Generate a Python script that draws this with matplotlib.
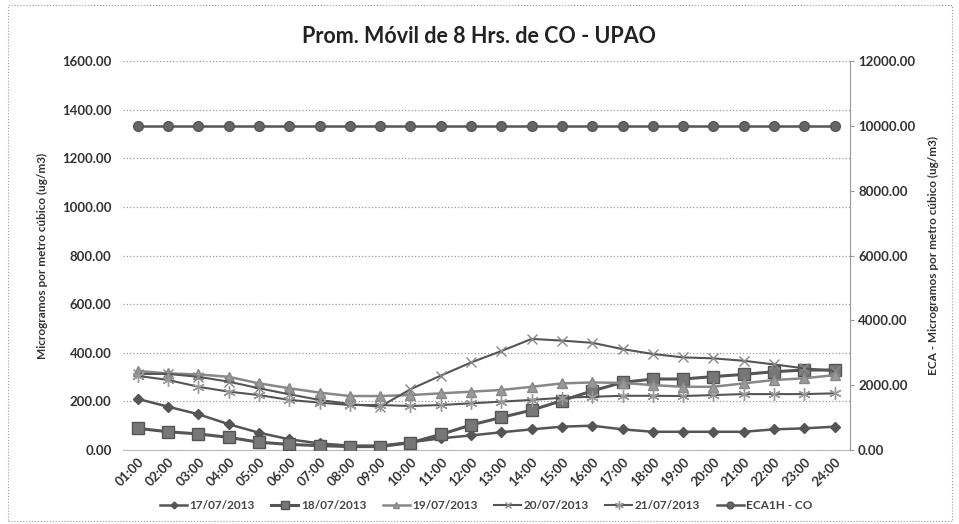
import matplotlib
matplotlib.use("Agg")
import matplotlib.pyplot as plt
from matplotlib.patches import Rectangle

# hourly 8-h moving averages of CO (ug/m3), UPAO station
hours = ['01:00', '02:00', '03:00', '04:00', '05:00', '06:00', '07:00', '08:00',
         '09:00', '10:00', '11:00', '12:00', '13:00', '14:00', '15:00', '16:00',
         '17:00', '18:00', '19:00', '20:00', '21:00', '22:00', '23:00', '24:00']
d17 = [210, 178, 147, 106, 71, 44, 27, 18, 18, 32, 48, 60, 73, 85, 96, 100, 85, 75, 75, 75, 75, 85, 89, 96]
d18 = [89, 75, 66, 52, 32, 23, 18, 14, 14, 30, 64, 103, 134, 164, 203, 243, 278, 292, 292, 302, 311, 322, 329, 329]
d19 = [325, 315, 311, 301, 274, 254, 236, 222, 222, 226, 233, 240, 247, 260, 274, 278, 276, 267, 260, 260, 274, 288, 295, 308]
d20 = [313, 313, 301, 281, 254, 229, 206, 189, 178, 250, 306, 360, 407, 457, 450, 441, 415, 395, 381, 377, 367, 352, 336, 325]
d21 = [305, 288, 260, 240, 226, 206, 195, 185, 185, 181, 185, 192, 199, 206, 215, 219, 223, 223, 222, 226, 230, 230, 230, 233]
eca = [10000] * 24

plt.rcParams['font.family'] = ['Lato', 'DejaVu Sans']
fig = plt.figure(figsize=(9.59, 5.24), dpi=100)
fig.patches.append(Rectangle((0.008, 0.006), 0.985, 0.985, transform=fig.transFigure,
                             fill=False, ec='#999', lw=0.8, ls=':'))
ax = fig.add_axes([0.128, 0.1412, 0.758, 0.7424])
ax2 = ax.twinx()
x = list(range(len(hours)))

series = [
    (d17, '17/07/2013', dict(color='#555', marker='D', ms=5, lw=1.8)),
    (d18, '18/07/2013', dict(color='#555', marker='s', ms=8, lw=2.2, mfc='#777', mec='#555')),
    (d19, '19/07/2013', dict(color='#888', marker='^', ms=7, lw=1.8, mfc='#999', mec='#888')),
    (d20, '20/07/2013', dict(color='#555', marker='x', ms=7, lw=1.5, mec='#888')),
    (d21, '21/07/2013', dict(color='#555', marker=(6, 2, 0), ms=9, lw=1.5, mec='#999')),
]
handles = []
for vals, lab, kw in series:
    h, = ax.plot(x, vals, label=lab, zorder=3, **kw)
    handles.append(h)
h, = ax2.plot(x, eca, label='ECA1H - CO', color='#555', marker='o', ms=7, lw=1.8, mfc='#666', mec='#555')
handles.append(h)

ax.set_xlim(-0.5, 23.5)
ax.set_ylim(0, 1600)
ax2.set_ylim(0, 12000)
ax.set_yticks(range(0, 1601, 200))
ax2.set_yticks(range(0, 12001, 2000))
ax.set_yticklabels([f'{v:.2f}' for v in range(0, 1601, 200)])
ax2.set_yticklabels([f'{v:.2f}' for v in range(0, 12001, 2000)])
ax.set_xticks(x)
ax.set_xticklabels(hours, rotation=45, ha='right', rotation_mode='anchor')
ax.yaxis.grid(True, color='#999', ls=':', lw=0.9)
ax.set_axisbelow(True)
for s in ['top', 'left', 'right']:
    ax.spines[s].set_visible(False)
    ax2.spines[s].set_visible(s == 'right')
ax2.spines['bottom'].set_visible(False)
ax.spines['bottom'].set_color('#bbb')
ax2.spines['right'].set_color('#999')
ax.tick_params(axis='y', length=0, labelsize=9.5, labelcolor='#333', pad=8)
ax.tick_params(axis='x', length=0, labelsize=9.5, labelcolor='#333', pad=4)
ax2.tick_params(axis='y', length=3, color='#999', labelsize=9.5, labelcolor='#333', pad=3)
for lbl in ax.get_xticklabels() + ax.get_yticklabels() + ax2.get_yticklabels():
    lbl.set_fontweight('bold')

ax.set_ylabel('Microgramos por metro cúbico (ug/m3)', fontsize=8.5, fontweight='bold', color='#333', labelpad=10)
ax2.set_ylabel('ECA - Microgramos por metro cúbico (ug/m3)', fontsize=8.5, fontweight='bold', color='#333', labelpad=9)
fig.suptitle('Prom. Móvil de 8 Hrs. de CO - UPAO', x=0.5, y=0.95, fontsize=15.5, fontweight='bold', color='#222')

leg = fig.legend(handles=handles, loc='center', bbox_to_anchor=(0.507, 0.036), ncol=6, frameon=False,
                 fontsize=8.5, handlelength=2.3, columnspacing=1.4, handletextpad=0.2, markerscale=0.7)
for t in leg.get_texts():
    t.set_fontweight('bold')
    t.set_color('#444')

fig.savefig('out.png', dpi=100)
